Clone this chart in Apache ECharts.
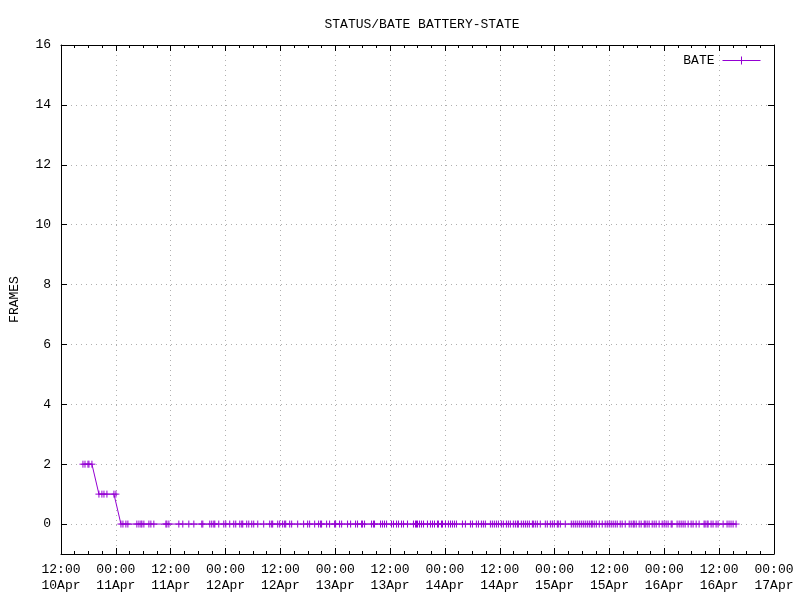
<!DOCTYPE html>
<html>
<head>
<meta charset="utf-8">
<script src="https://cdn.jsdelivr.net/npm/echarts@6/dist/echarts.min.js"></script>
<style>
html, body { margin: 0; padding: 0; background: #fff; }
#chart { width: 800px; height: 600px; }
</style>
</head>
<body>
<div id="chart"></div>
<script>
const titleText = 'STATUS/BATE BATTERY-STATE'
const seriesName = 'BATE'
const yTicks = [0, 2, 4, 6, 8, 10, 12, 14, 16]
const xStart = '04-10 12:00'
const xEnd = '04-17 00:00'
// readings, grouped by the frame count they show
const bateLevels = [2, 1, 0]
const bateTimes2 = ['04-10 16:48', '04-10 17:15', '04-10 17:54', '04-10 18:07', '04-10 18:46']
const bateTimes1 = ['04-10 20:18', '04-10 20:57', '04-10 21:24', '04-10 22:03', '04-10 23:35', '04-11 00:01']
const bateTimes0 = [
    '04-11 01:07', '04-11 01:33', '04-11 02:12', '04-11 02:38', '04-11 04:36', '04-11 05:03', '04-11 05:29',
    '04-11 05:42', '04-11 06:08', '04-11 07:14', '04-11 07:40', '04-11 08:19', '04-11 10:57', '04-11 11:10',
    '04-11 11:36', '04-11 13:47', '04-11 14:39', '04-11 15:58', '04-11 17:04', '04-11 18:48', '04-11 19:02',
    '04-11 20:33', '04-11 20:59', '04-11 21:26', '04-11 21:39', '04-11 22:31', '04-11 23:37',
    '04-12 00:03', '04-12 00:55', '04-12 01:48', '04-12 02:14', '04-12 03:07', '04-12 03:33', '04-12 03:46',
    '04-12 04:38', '04-12 05:05', '04-12 05:44', '04-12 06:10', '04-12 07:03', '04-12 08:21', '04-12 09:40',
    '04-12 10:06', '04-12 10:19', '04-12 11:25', '04-12 11:51', '04-12 12:30', '04-12 12:56', '04-12 13:10',
    '04-12 14:02', '04-12 14:28', '04-12 15:47', '04-12 17:05', '04-12 17:58', '04-12 18:24', '04-12 19:30',
    '04-12 20:22', '04-12 20:48', '04-12 21:01', '04-12 22:07', '04-12 22:46', '04-12 23:52',
    '04-13 00:05', '04-13 00:57', '04-13 01:24', '04-13 02:42', '04-13 03:22', '04-13 04:27', '04-13 04:53',
    '04-13 05:46', '04-13 05:59', '04-13 06:25', '04-13 07:57', '04-13 08:23', '04-13 08:36', '04-13 09:55',
    '04-13 10:21', '04-13 10:47', '04-13 11:14', '04-13 12:19', '04-13 12:45', '04-13 13:25', '04-13 13:51',
    '04-13 14:30', '04-13 14:56', '04-13 15:49', '04-13 17:07', '04-13 17:34', '04-13 17:47', '04-13 18:00',
    '04-13 18:26', '04-13 18:52', '04-13 19:19', '04-13 20:11', '04-13 20:50', '04-13 21:17', '04-13 21:43',
    '04-13 22:22', '04-13 22:35', '04-13 23:15', '04-13 23:28',
    '04-14 00:07', '04-14 00:46', '04-14 01:13', '04-14 01:39', '04-14 02:05', '04-14 02:31', '04-14 03:50',
    '04-14 04:29', '04-14 05:35', '04-14 06:01', '04-14 06:53', '04-14 07:20', '04-14 07:59', '04-14 08:25',
    '04-14 08:51', '04-14 09:57', '04-14 10:23', '04-14 10:49', '04-14 11:16', '04-14 11:42', '04-14 12:21',
    '04-14 12:47', '04-14 13:27', '04-14 13:53', '04-14 14:19', '04-14 14:58', '04-14 15:25', '04-14 15:51',
    '04-14 16:04', '04-14 16:43', '04-14 17:10', '04-14 17:36', '04-14 18:02', '04-14 18:28', '04-14 19:08',
    '04-14 19:21', '04-14 19:47', '04-14 20:13', '04-14 20:52', '04-14 21:58', '04-14 22:24', '04-14 23:04',
    '04-14 23:30', '04-14 23:56',
    '04-15 00:35', '04-15 00:48', '04-15 01:15', '04-15 02:20', '04-15 03:39', '04-15 04:05', '04-15 04:31',
    '04-15 04:57', '04-15 05:24', '04-15 05:50', '04-15 06:16', '04-15 06:42', '04-15 07:09', '04-15 07:35',
    '04-15 08:01', '04-15 08:14', '04-15 08:40', '04-15 09:07', '04-15 09:46', '04-15 10:25', '04-15 11:04',
    '04-15 11:31', '04-15 11:57', '04-15 12:23', '04-15 12:49', '04-15 13:16', '04-15 13:42', '04-15 14:21',
    '04-15 14:47', '04-15 15:27', '04-15 16:19', '04-15 16:45', '04-15 17:12', '04-15 17:25', '04-15 17:51',
    '04-15 18:30', '04-15 18:56', '04-15 19:36', '04-15 19:49', '04-15 20:15', '04-15 20:41', '04-15 21:21',
    '04-15 21:47', '04-15 22:13', '04-15 22:52', '04-15 23:32', '04-15 23:58',
    '04-16 00:24', '04-16 00:50', '04-16 01:30', '04-16 01:43', '04-16 02:48', '04-16 03:15', '04-16 03:41',
    '04-16 04:07', '04-16 04:33', '04-16 05:13', '04-16 05:52', '04-16 06:18', '04-16 06:58', '04-16 07:37',
    '04-16 08:42', '04-16 08:56', '04-16 09:22', '04-16 09:35', '04-16 10:14', '04-16 10:40', '04-16 11:20',
    '04-16 11:46', '04-16 12:52', '04-16 13:44', '04-16 14:10', '04-16 14:36', '04-16 15:03', '04-16 15:42'
]

const HOUR = 3600 * 1000
const FONT = '"Liberation Mono", "DejaVu Sans Mono", monospace'
const COLOR = '#9400d3'
const MONTHS = ['Jan', 'Feb', 'Mar', 'Apr', 'May', 'Jun', 'Jul', 'Aug', 'Sep', 'Oct', 'Nov', 'Dec']

function toMs(s) {
    return Date.parse('2016-' + s.replace(' ', 'T') + ':00Z')
}
function pad(n) {
    return (n < 10 ? '0' : '') + n
}
function timeLabel(v) {
    let d = new Date(v)
    return pad(d.getUTCHours()) + ':' + pad(d.getUTCMinutes()) + '\n' + pad(d.getUTCDate()) + MONTHS[d.getUTCMonth()]
}

let points = []
;[bateTimes2, bateTimes1, bateTimes0].forEach((list, i) => {
    list.forEach(t => points.push([toMs(t), bateLevels[i]]))
})

const plus = 'path://M0,3.5L7,3.5M3.5,0L3.5,7'

let chart = echarts.init(document.getElementById('chart'), null, {renderer: 'canvas'})

const xCommon = {
    type: 'value',
    min: toMs(xStart),
    max: toMs(xEnd),
    interval: 12 * HOUR,
    axisLine: {show: true, onZero: false, lineStyle: {color: '#000', width: 1}},
    axisTick: {show: true, inside: true, length: 6, lineStyle: {color: '#000'}},
    minorTick: {show: true, splitNumber: 4, length: 3, lineStyle: {color: '#000'}}
}
const yCommon = {
    type: 'value',
    min: -1,
    max: 16,
    axisLine: {show: true, onZero: false, lineStyle: {color: '#000', width: 1}},
    axisTick: {show: true, inside: true, length: 6, customValues: yTicks, lineStyle: {color: '#000'}}
}

chart.setOption({
    animation: false,
    backgroundColor: '#fff',
    textStyle: {fontFamily: FONT},
    title: {
        text: titleText,
        left: 417,
        textAlign: 'center',
        top: 13,
        textStyle: {fontFamily: FONT, fontSize: 13, fontWeight: 'normal', color: '#000'}
    },
    legend: {
        right: 32,
        top: 49,
        itemWidth: 38,
        itemHeight: 8,
        itemGap: 10,
        align: 'right',
        icon: 'path://M0,4L38,4M19,0L19,8',
        textStyle: {fontFamily: FONT, fontSize: 13, color: '#000', padding: [0, 3, 0, 0]},
        itemStyle: {color: 'none', borderColor: COLOR, borderWidth: 1},
        data: [seriesName]
    },
    grid: {left: 60, right: 26, top: 45, bottom: 46},
    xAxis: [
        Object.assign({}, xCommon, {
            position: 'bottom',
            axisLabel: {
                show: true,
                formatter: timeLabel,
                margin: 8,
                fontFamily: FONT,
                fontSize: 13,
                lineHeight: 16,
                color: '#000',
                showMinLabel: true,
                showMaxLabel: true
            },
            splitLine: {show: true, lineStyle: {color: '#b0b0b0', type: [1, 4], width: 1}}
        }),
        Object.assign({}, xCommon, {
            position: 'top',
            axisLabel: {show: false},
            splitLine: {show: false}
        })
    ],
    yAxis: [
        Object.assign({}, yCommon, {
            position: 'left',
            name: 'FRAMES',
            nameLocation: 'middle',
            nameRotate: 90,
            nameGap: 40,
            nameTextStyle: {fontFamily: FONT, fontSize: 13, color: '#000'},
            axisLabel: {
                show: true,
                customValues: yTicks,
                margin: 10,
                fontFamily: FONT,
                fontSize: 13,
                color: '#000'
            },
            splitLine: {show: true, lineStyle: {color: '#b0b0b0', type: [1, 4], width: 1}}
        }),
        Object.assign({}, yCommon, {
            position: 'right',
            axisLabel: {show: false},
            splitLine: {show: false}
        })
    ],
    series: [{
        name: seriesName,
        type: 'line',
        xAxisIndex: 0,
        yAxisIndex: 0,
        data: points,
        showAllSymbol: true,
        symbol: plus,
        symbolSize: 7,
        lineStyle: {color: COLOR, width: 1},
        itemStyle: {color: 'none', borderColor: COLOR, borderWidth: 1},
        emphasis: {disabled: true}
    }]
})
</script>
</body>
</html>
